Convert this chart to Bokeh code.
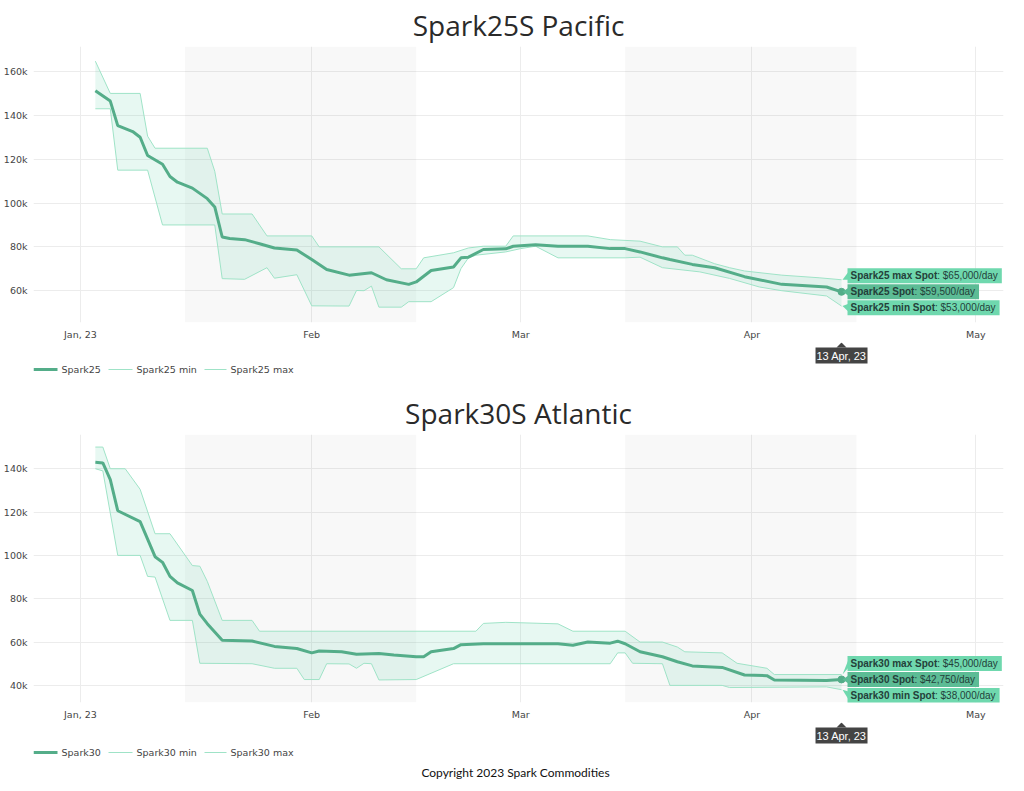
import pandas as pd
from bokeh.plotting import figure
from bokeh.models import Range1d, FixedTicker, NumeralTickFormatter, BoxAnnotation, Spacer
from bokeh.core.properties import value
from bokeh.layouts import column
from bokeh.embed import file_html
from bokeh.resources import INLINE

# ---------------- data: Spark25S Pacific ($/day) ----------------
s25_dates = ["2023-01-03", "2023-01-05", "2023-01-06", "2023-01-08", "2023-01-09", "2023-01-10",
             "2023-01-12", "2023-01-13", "2023-01-14", "2023-01-16", "2023-01-18", "2023-01-19",
             "2023-01-20", "2023-01-21", "2023-01-23", "2023-01-25", "2023-01-27", "2023-01-30",
             "2023-02-01", "2023-02-03", "2023-02-06", "2023-02-09", "2023-02-11", "2023-02-14",
             "2023-02-15", "2023-02-17", "2023-02-20", "2023-02-21", "2023-02-22", "2023-02-24",
             "2023-02-27", "2023-02-28", "2023-03-03", "2023-03-06", "2023-03-10", "2023-03-13",
             "2023-03-15", "2023-03-17", "2023-03-20", "2023-03-21", "2023-03-24", "2023-03-27",
             "2023-03-31", "2023-04-05", "2023-04-11", "2023-04-13"]
s25_spot = [151200, 146500, 135300, 132600, 130000, 121700,
            117700, 112100, 109500, 106800, 102000, 98200,
            84500, 83800, 83300, 81400, 79500, 78600,
            74200, 69700, 67100, 68200, 65000, 62900,
            64000, 69200, 70800, 75000, 75300, 78800,
            79100, 80300, 81000, 80300, 80300, 79200,
            79200, 77700, 75000, 74200, 72000, 70500,
            66400, 62900, 61700, 59500]
s25_min_dates = ["2023-01-03", "2023-01-05", "2023-01-06", "2023-01-10", "2023-01-12", "2023-01-19",
                 "2023-01-20", "2023-01-23", "2023-01-26", "2023-01-27", "2023-01-30", "2023-02-01",
                 "2023-02-06", "2023-02-07", "2023-02-08", "2023-02-09", "2023-02-10", "2023-02-13",
                 "2023-02-14", "2023-02-17", "2023-02-20", "2023-02-21", "2023-02-22", "2023-02-23",
                 "2023-02-27", "2023-03-01", "2023-03-03", "2023-03-06", "2023-03-15", "2023-03-17",
                 "2023-03-20", "2023-03-25", "2023-03-29", "2023-04-02", "2023-04-05", "2023-04-11",
                 "2023-04-13"]
s25_min = [143000, 143000, 115000, 115000, 90000, 90000,
           65500, 65200, 70500, 65700, 67300, 53100,
           53000, 60100, 60000, 62100, 52500, 52500,
           55000, 55000, 61400, 70100, 75000, 76200,
           77700, 79200, 80300, 75000, 75000, 75300,
           70500, 68600, 65600, 61700, 60000, 57600,
           53000]
s25_max_dates = ["2023-01-03", "2023-01-05", "2023-01-09", "2023-01-10", "2023-01-11", "2023-01-18",
                 "2023-01-19", "2023-01-20", "2023-01-24", "2023-01-26", "2023-02-01", "2023-02-02",
                 "2023-02-10", "2023-02-13", "2023-02-15", "2023-02-16", "2023-02-20", "2023-02-22",
                 "2023-02-24", "2023-02-27", "2023-02-28", "2023-03-10", "2023-03-13", "2023-03-17",
                 "2023-03-20", "2023-03-22", "2023-03-23", "2023-03-24", "2023-03-27", "2023-03-29",
                 "2023-03-31", "2023-04-05", "2023-04-10", "2023-04-13"]
s25_max = [164700, 150000, 150000, 130500, 125000, 125000,
           114500, 95000, 95000, 85000, 85000, 80000,
           80000, 70000, 70000, 75000, 77300, 79500,
           80300, 80300, 85000, 85000, 83300, 82600,
           80000, 80000, 76200, 76200, 72300, 70500,
           69000, 67100, 65900, 65000]

# ---------------- data: Spark30S Atlantic ($/day) ----------------
s30_dates = ["2023-01-03", "2023-01-04", "2023-01-05", "2023-01-06", "2023-01-09", "2023-01-11",
             "2023-01-12", "2023-01-13", "2023-01-14", "2023-01-16", "2023-01-17", "2023-01-18",
             "2023-01-20", "2023-01-24", "2023-01-27", "2023-01-30", "2023-02-01", "2023-02-02",
             "2023-02-05", "2023-02-07", "2023-02-10", "2023-02-12", "2023-02-15", "2023-02-16",
             "2023-02-17", "2023-02-20", "2023-02-21", "2023-02-24", "2023-03-01", "2023-03-06",
             "2023-03-08", "2023-03-10", "2023-03-13", "2023-03-14", "2023-03-15", "2023-03-17",
             "2023-03-20", "2023-03-22", "2023-03-24", "2023-03-28", "2023-03-31", "2023-04-03",
             "2023-04-04", "2023-04-11", "2023-04-13"]
s30_spot = [143000, 142700, 135000, 120600, 115600, 99400,
            96800, 90300, 87300, 83800, 72900, 68500,
            60800, 60500, 58000, 57000, 55000, 55900,
            55500, 54400, 54700, 54000, 53200, 53200,
            55500, 57000, 58800, 59200, 59200, 59200,
            58500, 60000, 59500, 60400, 59200, 55500,
            53200, 50900, 49000, 48300, 44800, 44500,
            42500, 42200, 42750]
s30_min_dates = ["2023-01-03", "2023-01-04", "2023-01-06", "2023-01-09", "2023-01-10", "2023-01-11",
                 "2023-01-13", "2023-01-16", "2023-01-17", "2023-01-24", "2023-01-27", "2023-01-30",
                 "2023-01-31", "2023-02-02", "2023-02-03", "2023-02-06", "2023-02-07", "2023-02-08",
                 "2023-02-09", "2023-02-10", "2023-02-15", "2023-02-20", "2023-03-13", "2023-03-14",
                 "2023-03-15", "2023-03-16", "2023-03-20", "2023-03-21", "2023-03-28", "2023-03-29",
                 "2023-04-11", "2023-04-13"]
s30_min = [140000, 139000, 100000, 100000, 90300, 90000,
           70000, 70000, 50200, 50000, 47900, 47900,
           42700, 42700, 50000, 49900, 47900, 50200,
           50000, 42500, 42700, 50000, 50000, 55000,
           55000, 50200, 50000, 40000, 40000, 39000,
           39300, 38000]
s30_max_dates = ["2023-01-03", "2023-01-04", "2023-01-05", "2023-01-07", "2023-01-09", "2023-01-11",
                 "2023-01-13", "2023-01-16", "2023-01-17", "2023-01-18", "2023-01-20", "2023-01-24",
                 "2023-01-25", "2023-02-23", "2023-02-24", "2023-02-27", "2023-03-06", "2023-03-08",
                 "2023-03-15", "2023-03-17", "2023-03-20", "2023-03-22", "2023-03-23", "2023-03-28",
                 "2023-03-30", "2023-04-03", "2023-04-04", "2023-04-13"]
s30_max = [150000, 150000, 140000, 140000, 130500, 110000,
           110000, 95300, 95000, 88000, 70000, 70000,
           65000, 65000, 68600, 69100, 68400, 65000,
           65000, 60000, 60000, 57700, 55500, 55000,
           50200, 47900, 45000, 45000]

# ---------------- shared labels ----------------
month_ticks = ["2023-01-01", "2023-02-01", "2023-03-01", "2023-04-01", "2023-05-01"]
month_labels = ["Jan, 23", "Feb", "Mar", "Apr", "May"]
band_starts = ["2023-01-15", "2023-03-15"]
band_ends = ["2023-02-15", "2023-04-15"]
latest_date = "2023-04-13"
latest_label = "13 Apr, 23"
s25_latest = [65000, 59500, 53000]     # max, spot, min
s30_latest = [45000, 42750, 38000]
s25_yticks = [60000, 80000, 100000, 120000, 140000, 160000]
s30_yticks = [40000, 60000, 80000, 100000, 120000, 140000]
copyright_text = "Copyright 2023 Spark Commodities"

MAIN = "#54ad89"
EDGE = "#9fe3c7"
FILL = "#5fd3a5"
BOX_LIGHT = "#6fd8ae"
BOX_MAIN = "#5cbc95"
BOX_TEXT = "#24403a"
AXIS_FONT = "DejaVu Sans"
AXIS_SIZE = "9.5px"

FW = 970                       # frame width (px)
FS = 10                        # hover label font size (px)

# Arial advance widths (per 1000 em), used only to size the label boxes
BOLD_W = {"S": 667, "p": 611, "a": 556, "r": 389, "k": 556, "2": 556, "5": 556, "3": 556,
          "0": 556, " ": 278, "m": 889, "x": 556, "o": 611, "t": 333, "i": 278, "n": 611}
REG_W = {":": 278, " ": 278, "$": 556, ",": 278, "/": 278, "d": 556, "a": 556, "y": 500}


def tw(s, table, size):
    return sum(table.get(c, 556) for c in s) * size / 1000.0


def ms(s):
    return pd.Timestamp(s).value / 1e6


X0 = ms("2022-12-25 17:00")
X1 = ms("2023-05-04 17:00")
XPP = (X1 - X0) / FW           # ms per pixel


def style_axis(ax):
    ax.axis_line_alpha = 0
    ax.major_tick_line_alpha = 0
    ax.minor_tick_line_alpha = 0
    ax.major_label_text_font = AXIS_FONT
    ax.major_label_text_font_size = AXIS_SIZE
    ax.major_label_text_color = "#444444"


def make_chart(title, name, dates, spot, min_dates, mins, max_dates, maxs, latest,
               yticks, y0, y1, frame_h):
    p = figure(frame_width=FW, frame_height=frame_h, x_axis_type="datetime",
               x_range=Range1d(X0, X1), y_range=Range1d(y0, y1),
               output_backend="svg", toolbar_location=None, outline_line_color=None)
    p.title.text = title
    p.title.align = "center"
    p.title.text_font = "Open Sans"
    p.title.text_font_size = "28px"
    p.title.text_font_style = "normal"
    p.title.text_color = "#2a2a2a"
    p.title.standoff = 6

    for a, b in zip(band_starts, band_ends):
        p.add_layout(BoxAnnotation(left=ms(a), right=ms(b), fill_color="#000000",
                                   fill_alpha=0.027, line_color=None, level="underlay"))

    xt = FixedTicker(ticks=[ms(t) for t in month_ticks])
    p.xaxis.ticker = xt
    p.xaxis.major_label_overrides = {ms(t): l for t, l in zip(month_ticks, month_labels)}
    p.xgrid.ticker = xt
    p.yaxis.ticker = FixedTicker(ticks=yticks)
    p.ygrid.ticker = FixedTicker(ticks=yticks)
    p.yaxis.formatter = NumeralTickFormatter(format="0a")
    style_axis(p.xaxis[0])
    style_axis(p.yaxis[0])
    p.xaxis.major_label_standoff = 0
    p.yaxis.major_label_standoff = 0
    p.xgrid.grid_line_color = "#ececec"
    p.ygrid.grid_line_color = "#ececec"

    d = [ms(x) for x in dates]
    dmin = [ms(x) for x in min_dates]
    dmax = [ms(x) for x in max_dates]
    p.patch(dmax + dmin[::-1], maxs + mins[::-1], fill_color=FILL, fill_alpha=0.15,
            line_color=None)
    p.line(dmin, mins, line_color=EDGE, line_width=1)
    p.line(dmax, maxs, line_color=EDGE, line_width=1)
    p.line(d, spot, line_color=MAIN, line_width=3)
    p.scatter([d[-1]], [spot[-1]], size=7, color=MAIN)

    # hover-style labels at the latest date (boxes sized in pixels, converted to data units)
    ypp = (y1 - y0) / frame_h
    lx = ms(latest_date)
    names = [name + " max Spot", name + " Spot", name + " min Spot"]
    shifts = [16, 0, -16]
    boxes = [BOX_LIGHT, BOX_MAIN, BOX_LIGHT]
    for nm, val, sh, bc in zip(names, latest, shifts, boxes):
        vtxt = ": ${:,.0f}/day".format(val)
        bw = tw(nm, BOLD_W, FS)
        rw = tw(vtxt, REG_W, FS)
        c = latest[1] + sh * ypp
        left = lx + 6 * XPP
        right = left + (bw + rw + 7) * XPP
        p.quad(left=[left], right=[right], bottom=[c - 7.5 * ypp], top=[c + 7.5 * ypp],
               fill_color=bc, line_color=None)
        p.patch([lx + 1 * XPP, left + 1 * XPP, left + 1 * XPP], [val, c + 4 * ypp, c - 4 * ypp],
                fill_color=bc, line_color=None)
        p.text(x=[left + 3 * XPP], y=[c], text=[nm], text_font=value("Liberation Sans"),
               text_font_style="bold", text_font_size=f"{FS}px", text_color=BOX_TEXT,
               text_baseline="middle", text_align="left")
        p.text(x=[left + (3 + bw) * XPP], y=[c], text=[vtxt], text_font=value("Liberation Sans"),
               text_font_size=f"{FS}px", text_color=BOX_TEXT,
               text_baseline="middle", text_align="left")
    return p


def make_footer(main, name, fh, widest_tick, with_copyright=False):
    f = figure(frame_width=FW, frame_height=fh, x_range=main.x_range, y_range=Range1d(0, fh),
               x_axis_location=None, output_backend="svg", toolbar_location=None,
               outline_line_color=None, min_border_top=0, min_border_bottom=0)
    f.grid.visible = False
    # invisible y axis with the same label width keeps the frames aligned
    f.yaxis.ticker = FixedTicker(ticks=[fh / 2])
    f.yaxis.major_label_overrides = {fh / 2: widest_tick}
    style_axis(f.yaxis[0])
    f.yaxis.major_label_standoff = 0
    f.yaxis.major_label_text_alpha = 0

    lx = ms(latest_date)
    # date tag under the latest point
    top = fh - 5
    f.quad(left=[lx - 26 * XPP], right=[lx + 26 * XPP], bottom=[top - 16], top=[top],
           fill_color="#444444", line_color=None)
    f.patch([lx - 5 * XPP, lx, lx + 5 * XPP], [top, fh, top], fill_color="#444444",
            line_color=None)
    f.text(x=[lx], y=[top - 8], text=[latest_label], text_font=value("Liberation Sans"),
           text_font_size="11px", text_color="white", text_align="center",
           text_baseline="middle")

    # legend row
    ly = fh - 30 if with_copyright else 7
    items = [(name, 0, 24, 3, MAIN), (name + " min", 75, 99, 1, EDGE),
             (name + " max", 171, 193, 1, EDGE)]
    for lab, a, b, w, col in items:
        f.line([X0 + a * XPP, X0 + b * XPP], [ly, ly], line_color=col, line_width=w)
        f.text(x=[X0 + (b + 4) * XPP], y=[ly], text=[lab], text_font=value(AXIS_FONT),
               text_font_size=AXIS_SIZE, text_color="#444444", text_baseline="middle",
               text_align="left")
    if with_copyright:
        f.text(x=[X0 + 482 * XPP], y=[8], text=[copyright_text], text_font=value("Lato"),
               text_font_size="12px", text_color="#111111", text_baseline="middle",
               text_align="center")
    return f


p1 = make_chart("Spark25S Pacific", "Spark25", s25_dates, s25_spot, s25_min_dates, s25_min,
                s25_max_dates, s25_max, s25_latest, s25_yticks, 45500, 171400, frame_h=276)
f1 = make_footer(p1, "Spark25", 34, "160k")
p2 = make_chart("Spark30S Atlantic", "Spark30", s30_dates, s30_spot, s30_min_dates, s30_min,
                s30_max_dates, s30_max, s30_latest, s30_yticks, 32100, 155800, frame_h=268)
f2 = make_footer(p2, "Spark30", 58, "140k", with_copyright=True)

layout = column(p1, f1, Spacer(height=12), p2, f2, spacing=0)
open("out.html", "w").write(file_html(layout, INLINE))
